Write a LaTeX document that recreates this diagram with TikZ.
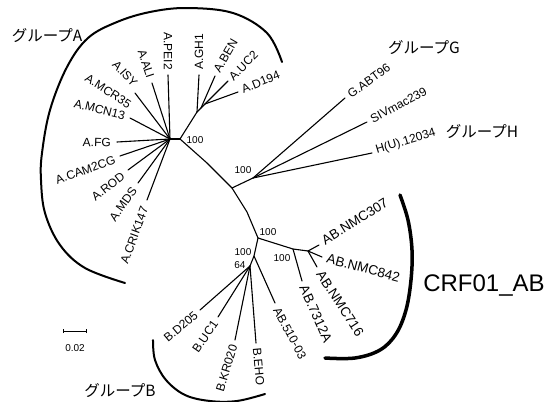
\documentclass[tikz,border=0pt]{standalone}
\usepackage{fontspec}
\setmainfont{Liberation Sans}
\newfontfamily\jp{Noto Sans CJK JP}
\begin{document}
\begin{tikzpicture}[x=1pt,y=-1pt,
  br/.style={line width=1.1pt, line cap=round},
  leaf/.style={font=\fontsize{12}{12}\selectfont, inner sep=1pt},
  abl/.style={font=\fontsize{13.5}{13.5}\selectfont, inner sep=1pt},
  bs/.style={font=\fontsize{10}{10}\selectfont, inner sep=0pt},
  grp/.style={font=\jp\fontsize{15.5}{15.5}\selectfont, inner sep=0pt},
  garc/.style={line width=2pt, line cap=round},
  carc/.style={line width=3.5pt, line cap=round}]
\useasboundingbox (0,0) rectangle (550,402);

% ---------- internal nodes ----------
\coordinate (hA1) at (170,139);
\coordinate (hA2) at (180,139);
\coordinate (nGH) at (197,112);
\coordinate (nU) at (205,104);
\coordinate (nBEN) at (201,108);
\coordinate (k1) at (207,163);
\coordinate (nG) at (232,188);
\coordinate (k2) at (247,212);
\coordinate (nR) at (258,238);
\coordinate (hG) at (253,178);
\coordinate (nAB1) at (293,249);
\coordinate (nAB2) at (308,251);
\coordinate (nB0) at (254,256);
\coordinate (hB) at (250,266);

% ---------- tips ----------
\coordinate (tFG) at (117,142);
\coordinate (tCAM) at (120,156);
\coordinate (tROD) at (128,170);
\coordinate (tMDS) at (138,183);
\coordinate (tCRIK) at (147,200);
\coordinate (tMCN) at (130,118);
\coordinate (tISY) at (135,93);
\coordinate (tALI) at (152,83);
\coordinate (tPEI) at (168,75);
\coordinate (tGH) at (199,75);
\coordinate (tBEN) at (215,76);
\coordinate (tUC) at (228,81);
\coordinate (tD) at (238,92);
\coordinate (tG) at (345,98);
\coordinate (tS) at (367,122);
\coordinate (tH) at (372,153);
\coordinate (t307) at (319,245);
\coordinate (t842) at (322,257);
\coordinate (t716) at (317,267);
\coordinate (t7312) at (302,281);
\coordinate (t510) at (275,303);
\coordinate (tD205) at (200,310);
\coordinate (tUC1) at (218,317);
\coordinate (tKR) at (235,340);
\coordinate (tEHO) at (256,343);

% ---------- branches ----------
\draw[br] (hA1) -- (hA2);
\foreach \t in {tFG,tCAM,tROD,tMDS,tCRIK,tMCN,tISY,tALI,tPEI}
  \draw[br] (hA1) -- (\t);
\draw[br] (hA2) -- (nGH) -- (nU);
\draw[br] (nGH) -- (tGH);
\draw[br] (nBEN) -- (tBEN);
\draw[br] (nU) -- (tUC);
\draw[br] (nU) -- (tD);
\draw[br] (hA2) -- (k1) -- (nG) -- (k2) -- (nR);
\draw[br] (nG) -- (hG);
\foreach \t in {tG,tS,tH} \draw[br] (hG) -- (\t);
\draw[br] (nR) -- (nAB1) -- (nAB2);
\draw[br] (nAB1) -- (t7312);
\foreach \t in {t307,t842,t716} \draw[br] (nAB2) -- (\t);
\draw[br] (nR) -- (nB0) -- (hB);
\draw[br] (nB0) -- (t510);
\foreach \t in {tD205,tUC1,tKR,tEHO} \draw[br] (hB) -- (\t);

% ---------- leaf labels ----------
\node[leaf, anchor=east, rotate=-2] (lFG) at (112,143) {A.FG};
\node[leaf, anchor=east, rotate=20] (lCAM) at (116,159) {A.CAM2CG};
\node[leaf, anchor=east, rotate=38] (lROD) at (124,174) {A.ROD};
\node[leaf, anchor=east, rotate=54] (lMDS) at (135,188) {A.MDS};
\node[leaf, anchor=east, rotate=70] (lCRIK) at (145,206) {A.CRIK147};
\node[leaf, anchor=east, rotate=-14] (lMCN) at (126,116) {A.MCN13};
\node[leaf, anchor=east, rotate=-33] (lMCR) at (131,106) {A.MCR35};
\node[leaf, anchor=east, rotate=-48] (lISY) at (136,86) {A.ISY};
\node[leaf, anchor=east, rotate=-72] (lALI) at (151,79) {A.ALI};
\node[leaf, anchor=east, rotate=-90] (lPEI) at (168,71) {A.PEI2};
\node[leaf, anchor=west, rotate=90] (lGH) at (199,71) {A.GH1};
\node[leaf, anchor=west, rotate=60] (lBEN) at (216,72) {A.BEN};
\node[leaf, anchor=west, rotate=45] (lUC) at (230,79) {A.UC2};
\node[leaf, anchor=west, rotate=22] (lD) at (241,90) {A.D194};
\node[leaf, anchor=west, rotate=36] (lG) at (348,96) {G.ABT96};
\node[leaf, anchor=west, rotate=28] (lS) at (370,120) {SIVmac239};
\node[leaf, anchor=west, rotate=17] (lH) at (375,151) {H(U).12034};
\node[abl, anchor=west, rotate=32] (l307) at (322,242) {AB.NMC307};
\node[abl, anchor=west, rotate=-15] (l842) at (326,258) {AB.NMC842};
\node[abl, anchor=west, rotate=-57] (l716) at (319,271) {AB.NMC716};
\node[abl, anchor=west, rotate=-66] (l7312) at (303,285) {AB.7312A};
\node[leaf, anchor=west, rotate=-62] (l510) at (276,307) {AB.510-03};
\node[leaf, anchor=east, rotate=40] (lD205) at (197,313) {B.D205};
\node[leaf, anchor=east, rotate=55] (lUC1) at (216,321) {B.UC1};
\node[leaf, anchor=east, rotate=73] (lKR) at (234,344) {B.KR020};
\node[leaf, anchor=west, rotate=-85] (lEHO) at (257,347) {B.EHO};

% ---------- support values ----------
\node[bs] (s1) at (195,140) {100};
\node[bs] (s2) at (243,170) {100};
\node[bs] (s3) at (268,232) {100};
\node[bs] (s4) at (282,258) {100};
\node[bs] (s5) at (243,252) {100};
\node[bs] (s6) at (240,265) {64};

% ---------- group arcs ----------
\draw[garc] plot[smooth, tension=0.6] coordinates {(282,62) (267,33) (233,13) (187,8) (150,12) (117,22) (88,38) (67,67) (50,110) (42,153) (41,180) (45,213) (60,245) (85,268) (125,283)};
\draw[garc] plot[smooth, tension=0.6] coordinates {(153,340) (155,360) (166,380) (185,395) (210,401) (237,401) (265,394)};
\draw[carc] plot[smooth, tension=0.6] coordinates {(400,195) (408,220) (412,250) (411,280) (406,310) (396,334) (380,350) (355,358) (325,358)};

% ---------- group labels ----------
\node[grp] (gA) at (47,36) {グループA};
\node[grp] (gG) at (424,48) {グループG};
\node[grp] (gH) at (482,132) {グループH};
\node[grp] (gB) at (120,391) {グループB};
\node[font=\fontsize{24}{24}\selectfont, inner sep=0pt] (crf) at (484,286) {CRF01\_AB};

% ---------- scale bar ----------
\coordinate (sb1) at (63,331);
\coordinate (sb2) at (86,331);
\draw[line width=1pt] (sb1) -- (sb2);
\draw[line width=0.8pt] ([yshift=-2pt]sb1) -- ([yshift=2pt]sb1);
\draw[line width=0.8pt] ([yshift=-2pt]sb2) -- ([yshift=2pt]sb2);
\node[bs] (sbl) at (75,348) {0.02};
\end{tikzpicture}
\end{document}
